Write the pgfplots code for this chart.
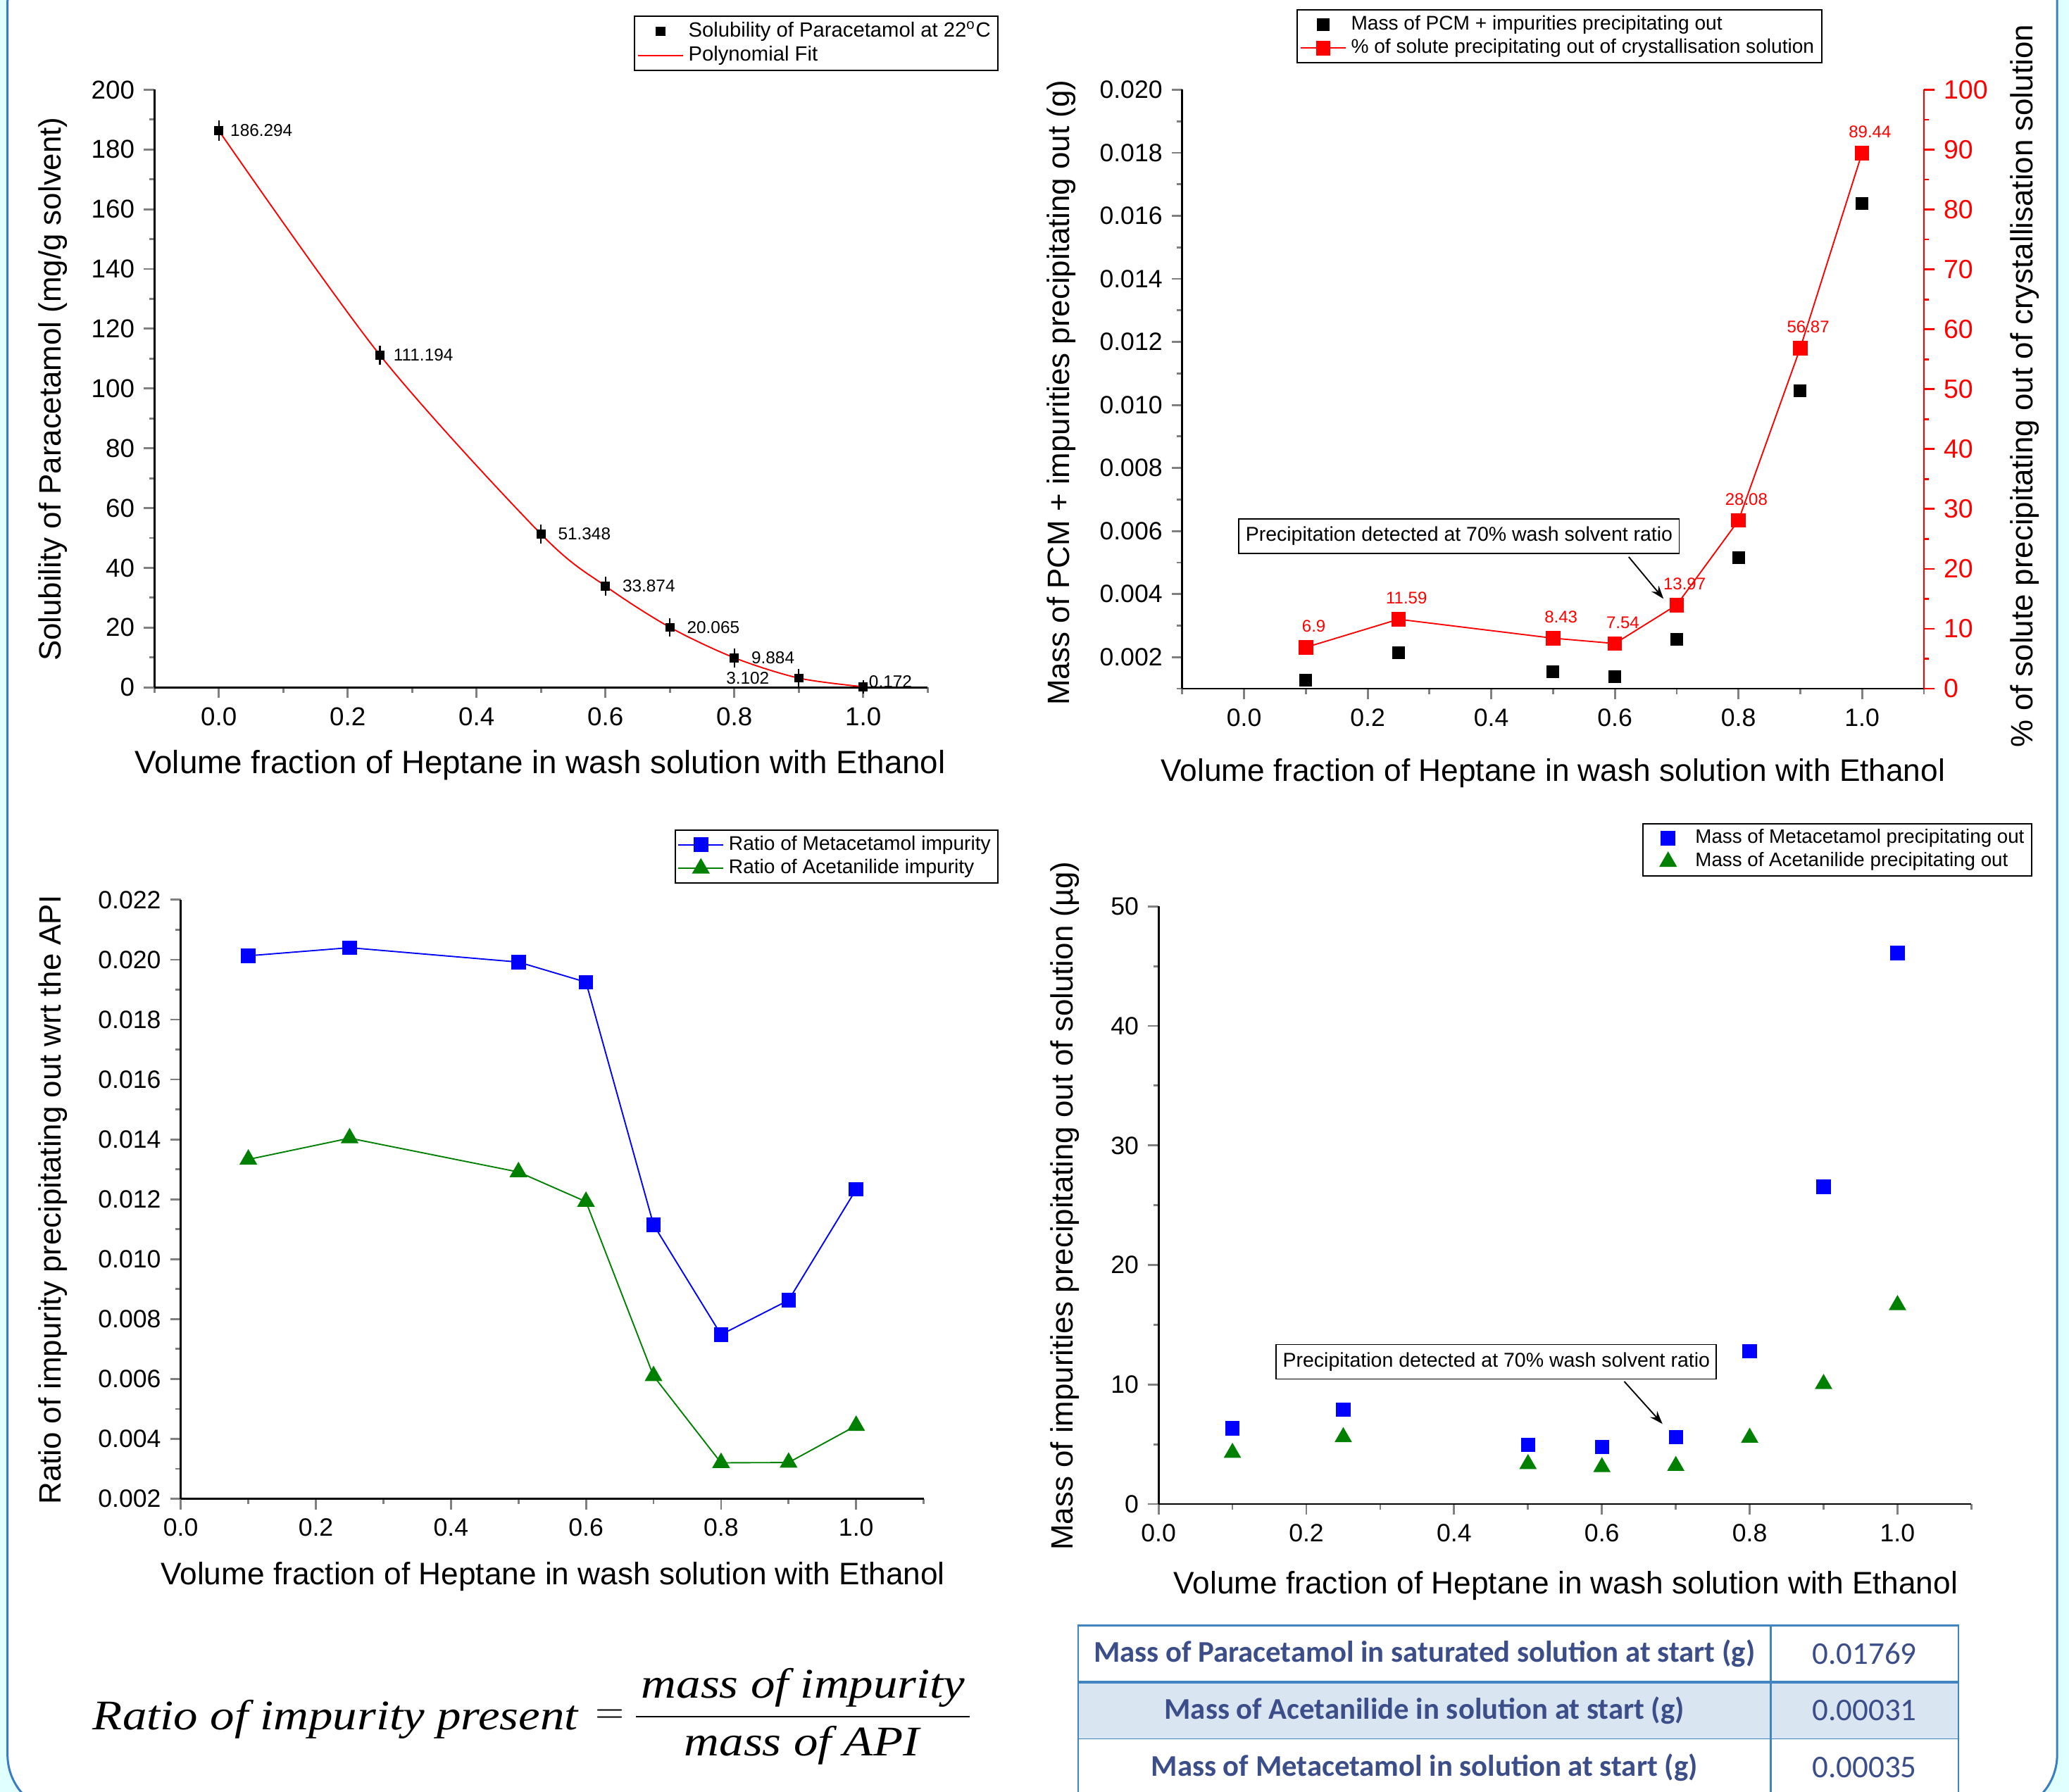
\documentclass[border=0pt]{standalone}
\usepackage{fontspec}
\setmainfont{Liberation Sans}
\newfontfamily\tabfont{Carlito}
\newfontfamily\formfont[FakeStretch=1.15]{Liberation Serif}
\usepackage{pgfplots}
\pgfplotsset{compat=1.18}
\usetikzlibrary{arrows.meta}

\definecolor{frameblue}{RGB}{58,126,194}
\definecolor{bgcyan}{RGB}{224,255,255}
\definecolor{tabblue}{RGB}{59,78,138}
\definecolor{tabline}{RGB}{64,132,194}
\definecolor{tabfill}{RGB}{217,229,240}
\definecolor{dgreen}{RGB}{0,128,0}

\newcommand{\fs}[1]{\fontsize{#1}{1.2\dimexpr#1pt\relax}\selectfont}

\pgfplotsset{
  base/.style={
    scale only axis, clip=false, anchor=south west,
    axis x line*=bottom, axis y line*=left,
    axis line style={line width=0.75pt},
    tick align=outside, major tick length=4pt, minor tick length=2pt,
    tick style={line width=0.75pt},
    /pgf/number format/assume math mode=true,
    scaled ticks=false,
    tick label style={font=\fs{9.5}},
    xticklabel style={/pgf/number format/.cd, fixed, fixed zerofill, precision=1},
    legend cell align=left,
    legend style={draw=black, line width=0.5pt, font=\fs{7.5}, inner xsep=1pt, inner ysep=1pt,
      nodes={inner xsep=1.8pt, inner ysep=1pt}},
  },
  % marker-only legend image as wide as a line legend image
  mlegend/.style={legend image code/.code={%
    \path[draw=none, fill=none] (0cm,0cm) -- (0.6cm,0cm);
    \draw[##1] plot coordinates {(0.3cm,0cm)};}},
}

\begin{document}
\begin{tikzpicture}
\path[use as bounding box] (0pt,0pt) rectangle (784pt,679pt);
\begin{scope}
\clip (0pt,0pt) rectangle (784pt,679pt);
\fill[bgcyan] (0pt,0pt) rectangle (784pt,679pt);
\filldraw[fill=white, draw=frameblue, line width=0.8pt, rounded corners=22pt] (2.85pt,-8pt) rectangle (779.5pt,700pt);
\end{scope}

% ---------- top left: solubility
\begin{axis}[base, at={(58.5pt,418.5pt)}, width=293pt, height=226.5pt,
  xmin=-0.1, xmax=1.1, ymin=0, ymax=200,
  xtick={0,0.2,0.4,0.6,0.8,1}, minor xtick={-0.1,0.1,0.3,0.5,0.7,0.9,1.1},
  ytick={0,20,...,200}, minor ytick={10,30,...,190},
  tick label style={font=\fs{9.8}},
  legend style={at={(1.092,1.124)}, anchor=north east, font=\fs{7.8}}]
\addplot[black, only marks, mark=square*, mark size=1.5pt, mlegend,
  error bars/.cd, y dir=both, y explicit,
  error bar style={line width=0.6pt}, error mark options={black, mark size=2.2pt, line width=0.6pt}]
  coordinates {(0,186.294) +- (0,1.5) (0.25,111.194) +- (0,1.2) (0.5,51.348) +- (0,1.2)
    (0.6,33.874) +- (0,1.2) (0.7,20.065) +- (0,1.2) (0.8,9.884) +- (0,1.2)
    (0.9,3.102) +- (0,1.2) (1.0,0.172) +- (0,0.3)};
\addlegendentry{Solubility of Paracetamol at 22\textsuperscript{o}C}
\addplot[red, line width=0.5pt, smooth, no marks]
  coordinates {(0,186.3) (0.25,111.2) (0.5,51.3) (0.6,33.9) (0.7,20.1) (0.8,9.9) (0.9,3.1) (1.0,0.2)};
\addlegendentry{Polynomial Fit}
\begin{scope}[every node/.style={font=\fs{6.5}, inner sep=0pt}]
\node[anchor=west, xshift=4.2pt] at (axis cs:0,186.294) {186.294};
\node[anchor=west, xshift=5pt] at (axis cs:0.25,111.194) {111.194};
\node[anchor=west, xshift=6.3pt] at (axis cs:0.5,51.348) {51.348};
\node[anchor=west, xshift=6.3pt] at (axis cs:0.6,33.874) {33.874};
\node[anchor=west, xshift=6.3pt] at (axis cs:0.7,20.065) {20.065};
\node[anchor=west, xshift=6.3pt] at (axis cs:0.8,9.884) {9.884};
\node[anchor=east, xshift=-11pt] at (axis cs:0.9,3.102) {3.102};
\node[anchor=west, xshift=2pt, yshift=2pt] at (axis cs:1.0,0.172) {0.172};
\end{scope}
\node[font=\fs{12.2}] at (rel axis cs:0.499,-0.130) {Volume fraction of Heptane in wash solution with Ethanol};
\node[font=\fs{11.7}, rotate=90] at (rel axis cs:-0.131,0.499) {Solubility of Paracetamol (mg/g solvent)};
\end{axis}

% ---------- top right: mass + % precipitating
\begin{axis}[base, at={(448pt,418pt)}, width=281pt, height=227pt,
  xmin=-0.1, xmax=1.1, ymin=0.001, ymax=0.020,
  xtick={0,0.2,0.4,0.6,0.8,1}, minor xtick={-0.1,0.1,0.3,0.5,0.7,0.9,1.1},
  ytick={0.002,0.004,0.006,0.008,0.010,0.012,0.014,0.016,0.018,0.020},
  minor ytick={0.001,0.003,0.005,0.007,0.009,0.011,0.013,0.015,0.017,0.019},
  yticklabel style={/pgf/number format/.cd, fixed, fixed zerofill, precision=3},
  legend style={at={(0.863,1.134)}, anchor=north east}]
\addplot[black, only marks, mark=square*, mark size=2.2pt, mlegend]
  coordinates {(0.1,0.00128) (0.25,0.00213) (0.5,0.00154) (0.6,0.00139) (0.7,0.00257) (0.8,0.00515) (0.9,0.01044) (1.0,0.01639)};
\addlegendentry{Mass of PCM + impurities precipitating out}
\addlegendimage{red, line width=0.5pt, mark=square*, mark size=2.5pt}
\addlegendentry{\% of solute precipitating out of crystallisation solution}
\node[font=\fs{11.8}] at (rel axis cs:0.5,-0.141) {Volume fraction of Heptane in wash solution with Ethanol};
\node[font=\fs{11.7}, rotate=90] at (rel axis cs:-0.163,0.494) {Mass of PCM + impurities precipitating out (g)};
\node[font=\fs{11.7}, rotate=90] at (rel axis cs:1.136,0.5055) {\% of solute precipitating out of crystallisation solution};
\node[draw, fill=white, line width=0.5pt, font=\fs{7.6}, inner xsep=2.5pt, inner ysep=3pt] at (rel axis cs:0.3733,0.2548) {Precipitation detected at 70\% wash solvent ratio};
\draw[line width=0.5pt, -{Stealth[length=5pt,width=3.5pt]}] (rel axis cs:0.602,0.220) -- (rel axis cs:0.649,0.150);
\end{axis}
\begin{axis}[base, at={(448pt,418pt)}, width=281pt, height=227pt,
  xmin=-0.1, xmax=1.1, ymin=0, ymax=100,
  axis x line=none, axis y line*=right,
  y axis line style={red},
  tick style={red, line width=0.75pt},
  ytick={0,10,...,100}, minor ytick={5,15,...,95},
  yticklabel style={red, font=\fs{10}}]
\addplot[red, line width=0.5pt, mark=square*, mark size=2.5pt]
  coordinates {(0.1,6.9) (0.25,11.59) (0.5,8.43) (0.6,7.54) (0.7,13.97) (0.8,28.08) (0.9,56.87) (1.0,89.44)};
\begin{scope}[every node/.style={font=\fs{6.4}, text=red, inner sep=0pt, xshift=3pt, yshift=8pt}]
\node at (axis cs:0.1,6.9) {6.9};
\node at (axis cs:0.25,11.59) {11.59};
\node at (axis cs:0.5,8.43) {8.43};
\node at (axis cs:0.6,7.54) {7.54};
\node at (axis cs:0.7,13.97) {13.97};
\node at (axis cs:0.8,28.08) {28.08};
\node at (axis cs:0.9,56.87) {56.87};
\node at (axis cs:1.0,89.44) {89.44};
\end{scope}
\end{axis}

% ---------- bottom left: impurity ratios
\begin{axis}[base, at={(68.5pt,111pt)}, width=281.5pt, height=227pt,
  xmin=0, xmax=1.1, ymin=0.002, ymax=0.022,
  xtick={0,0.2,0.4,0.6,0.8,1}, minor xtick={0.1,0.3,0.5,0.7,0.9,1.1},
  ytick={0.002,0.004,0.006,0.008,0.010,0.012,0.014,0.016,0.018,0.020,0.022},
  minor ytick={0.003,0.005,0.007,0.009,0.011,0.013,0.015,0.017,0.019,0.021},
  yticklabel style={/pgf/number format/.cd, fixed, fixed zerofill, precision=3},
  legend style={at={(1.101,1.117)}, anchor=north east}]
\addplot[blue, line width=0.5pt, mark=square*, mark size=2.5pt]
  coordinates {(0.1,0.02013) (0.25,0.0204) (0.5,0.01992) (0.6,0.01925) (0.7,0.01115) (0.8,0.00748) (0.9,0.00863) (1.0,0.01233)};
\addlegendentry{Ratio of Metacetamol impurity}
\addplot[dgreen, line width=0.5pt, mark=triangle*, mark size=3.4pt]
  coordinates {(0.1,0.01333) (0.25,0.01404) (0.5,0.01291) (0.6,0.01192) (0.7,0.0061) (0.8,0.0032) (0.9,0.00321) (1.0,0.00444)};
\addlegendentry{Ratio of Acetanilide impurity}
\node[font=\fs{11.8}] at (rel axis cs:0.501,-0.130) {Volume fraction of Heptane in wash solution with Ethanol};
\node[font=\fs{11.7}, rotate=90] at (rel axis cs:-0.172,0.499) {Ratio of impurity precipitating out wrt the API};
\end{axis}

% ---------- bottom right: impurity masses
\begin{axis}[base, at={(439pt,109pt)}, width=308pt, height=226.5pt,
  xmin=0, xmax=1.1, ymin=0, ymax=50,
  xtick={0,0.2,0.4,0.6,0.8,1}, minor xtick={0.1,0.3,0.5,0.7,0.9,1.1},
  ytick={0,10,...,50}, minor ytick={5,15,...,45},
  legend style={at={(1.075,1.139)}, anchor=north east, font=\fs{7.4}}]
\addplot[blue, only marks, mark=square*, mark size=2.5pt, mlegend]
  coordinates {(0.1,6.34) (0.25,7.9) (0.5,4.97) (0.6,4.76) (0.7,5.6) (0.8,12.77) (0.9,26.54) (1.0,46.1)};
\addlegendentry{Mass of Metacetamol precipitating out}
\addplot[dgreen, only marks, mark=triangle*, mark size=3.4pt, mlegend]
  coordinates {(0.1,4.29) (0.25,5.6) (0.5,3.35) (0.6,3.09) (0.7,3.19) (0.8,5.55) (0.9,10.05) (1.0,16.65)};
\addlegendentry{Mass of Acetanilide precipitating out}
\node[font=\fs{11.8}] at (rel axis cs:0.501,-0.137) {Volume fraction of Heptane in wash solution with Ethanol};
\node[font=\fs{11.7}, rotate=90] at (rel axis cs:-0.115,0.499) {Mass of impurities precipitating out of solution (µg)};
\node[draw, fill=white, line width=0.5pt, font=\fs{7.6}, inner xsep=2.5pt, inner ysep=3pt] at (rel axis cs:0.4156,0.238) {Precipitation detected at 70\% wash solvent ratio};
\draw[line width=0.5pt, -{Stealth[length=5pt,width=3.5pt]}] (rel axis cs:0.573,0.205) -- (rel axis cs:0.620,0.134);
\end{axis}

% ---------- formula
\begin{scope}[every node/.style={inner sep=0pt, font=\formfont\itshape\fs{16}}]
\node[anchor=base west] at (35pt,23.6pt) {Ratio of impurity present};
\node[font=\fs{15}] at (231pt,28.5pt) {$=$};
\draw[line width=0.6pt] (241pt,28.5pt) -- (367.5pt,28.5pt);
\node[anchor=base] at (304.4pt,35.5pt) {mass of impurity};
\node[anchor=base] at (303.8pt,13.6pt) {mass of API};
\end{scope}

% ---------- table
\fill[tabfill] (408.5pt,20pt) rectangle (742pt,41.5pt);
\draw[tabline, line width=0.6pt] (408.5pt,-2pt) -- (408.5pt,63pt) -- (742pt,63pt) -- (742pt,-2pt);
\draw[tabline, line width=0.6pt] (671pt,-2pt) -- (671pt,63pt);
\draw[tabline, line width=1.3pt] (408.5pt,41.5pt) -- (742pt,41.5pt);
\draw[tabline, line width=0.5pt] (408.5pt,20pt) -- (742pt,20pt);
\begin{scope}[every node/.style={text=tabblue, inner sep=0pt}]
\node[font=\tabfont\bfseries\fs{11.4}] at (539.75pt,52.25pt) {Mass of Paracetamol in saturated solution at start (g)};
\node[font=\tabfont\bfseries\fs{11.4}] at (539.75pt,30.75pt) {Mass of Acetanilide in solution at start (g)};
\node[font=\tabfont\bfseries\fs{11.4}] at (539.75pt,9.25pt) {Mass of Metacetamol in solution at start (g)};
\node[font=\tabfont\fs{12}] at (706.5pt,52.25pt) {0.01769};
\node[font=\tabfont\fs{12}] at (706.5pt,30.75pt) {0.00031};
\node[font=\tabfont\fs{12}] at (706.5pt,9.25pt) {0.00035};
\end{scope}
\end{tikzpicture}
\end{document}
